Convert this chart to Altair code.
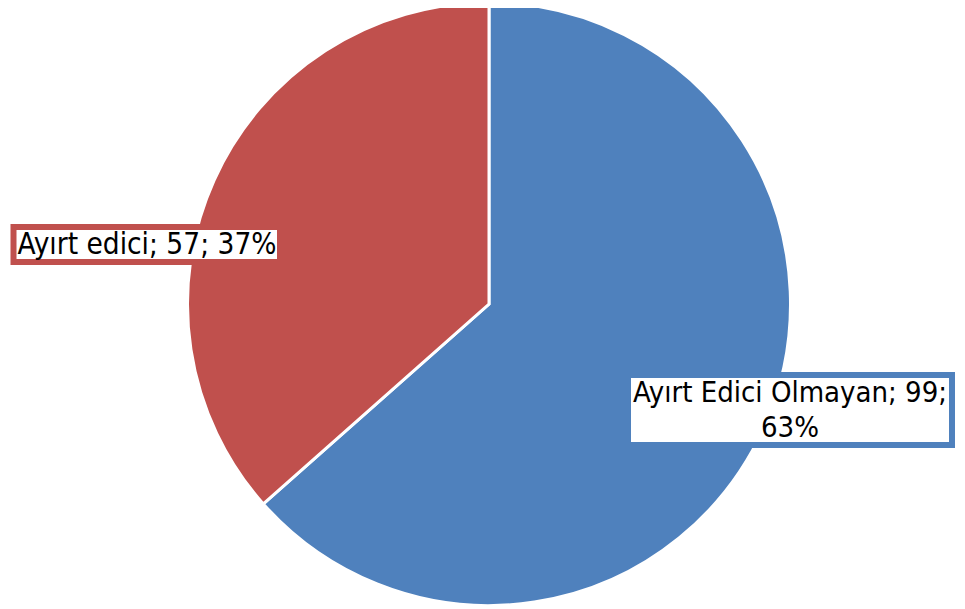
import altair as alt
import pandas as pd

categories = ["Ayırt Edici Olmayan", "Ayırt edici"]
values = [99, 57]
colors = ["#4F81BD", "#C0504D"]

total = sum(values)
labels = [f"{c}; {v}; {round(100 * v / total)}%" for c, v in zip(categories, values)]
df = pd.DataFrame({
    "cat": categories,
    "value": values,
    "order": [0, 1],
    "label": labels,
})
df.loc[0, "label"] = df.loc[0, "label"].replace("; 63%", ";\n63%")

FONT = "DejaVu Sans Condensed, Liberation Sans Narrow, sans-serif"
CX, CY, R = 481, 296, 301.5

base = alt.Chart(df)

pie = base.mark_arc(stroke="white", strokeWidth=3).encode(
    theta=alt.Theta("value:Q", stack=True),
    order=alt.Order("order:Q"),
    color=alt.Color("cat:N", scale=alt.Scale(domain=categories, range=colors), legend=None),
    radius=alt.value(R),
    x=alt.value(CX),
    y=alt.value(CY),
)

red_box = base.transform_filter(alt.datum.cat == categories[1]).mark_rect(
    fill="white", stroke=colors[1], strokeWidth=6
).encode(x=alt.value(5.5), x2=alt.value(272), y=alt.value(219), y2=alt.value(254))

red_text = base.transform_filter(alt.datum.cat == categories[1]).mark_text(
    font=FONT, fontSize=29.5, color="black", align="center", baseline="middle",
    x=139, y=237
).encode(text="label:N")

blue_box = base.transform_filter(alt.datum.cat == categories[0]).mark_rect(
    fill="white", stroke=colors[0], strokeWidth=6
).encode(x=alt.value(620), x2=alt.value(944), y=alt.value(367), y2=alt.value(437))

blue_text = base.transform_filter(alt.datum.cat == categories[0]).mark_text(
    font=FONT, fontSize=29, color="black", align="center", baseline="middle",
    x=782, y=385, lineBreak="\n", lineHeight=35
).encode(text="label:N")

chart = alt.layer(pie, red_box, red_text, blue_box, blue_text).properties(
    width=949, height=601, autosize=alt.AutoSizeParams(type="none"), padding=0
).configure_view(stroke=None)

chart.save("out.html", embed_options={"renderer": "svg", "actions": False})
